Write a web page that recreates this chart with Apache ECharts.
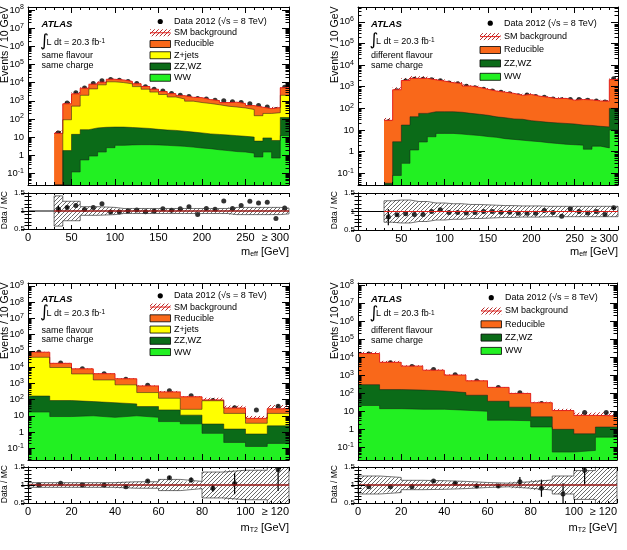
<!DOCTYPE html>
<html>
<head>
<meta charset="utf-8">
<script src="https://cdn.jsdelivr.net/npm/echarts@6.0.0/dist/echarts.min.js"></script>
<style>
  html, body { margin: 0; padding: 0; background: #fff; }
  #chart { width: 627px; height: 550px; }
</style>
</head>
<body>
<div id="chart"></div>
<script>
const FONT = '"Liberation Sans", Arial, Helvetica, sans-serif';
const COL = { red: '#f9681a', zjets: '#ffff00', zz: '#0b6b18', ww: '#22f022', sm: '#e3211c' };

// bin centres (10 GeV bins, last bin is overflow)
const meffBins = [35, 45, 55, 65, 75, 85, 95, 105, 115, 125, 135, 145, 155, 165, 175, 185, 195, 205, 215, 225, 235, 245, 255, 265, 275, 285, 295];
const mt2Bins = [5, 15, 25, 35, 45, 55, 65, 75, 85, 95, 105, 115];
// axis ticks
const meffTicks = [0, 50, 100, 150, 200, 250, 300];
const mt2Ticks = [0, 20, 40, 60, 80, 100, 120];
const ratioTicks = [0.5, 1, 1.5];
const sfEffDecades = [-1, 0, 1, 2, 3, 4, 5, 6, 7, 8];
const dfEffDecades = [-1, 0, 1, 2, 3, 4, 5, 6];
const sfT2Decades = [-1, 0, 1, 2, 3, 4, 5, 6, 7, 8, 9];
const dfT2Decades = [-1, 0, 1, 2, 3, 4, 5, 6, 7, 8];

// same flavour, m_eff
const sfEffWW = [0, 0, 0.12, 0.55, 0.9, 1.5, 2.6, 3.5, 3.7, 3.8, 3.8, 3.7, 3.5, 3.3, 3.1, 2.8, 2.5, 2.3, 2.0, 1.8, 1.6, 1.5, 1.3, 0.8, 1.5, 0.7, 12];
const sfEffZZ = [0, 1.8, 14, 25, 31, 33, 33, 32, 30, 28, 26, 23, 21, 20, 18, 16, 14.5, 12.7, 12, 11.2, 10.4, 9.5, 8.7, 5.2, 7.5, 5.8, 108];
const sfEffZjets = [0, 88, 490, 1970, 4470, 7470, 10960, 9960, 8470, 5970, 4270, 2970, 2180, 1580, 1230, 930, 780, 690, 590, 490, 440, 390, 320, 144, 191, 213, 1880];
const sfEffRed = [16, 590, 1900, 2900, 3600, 3000, 4200, 4000, 3000, 2600, 1800, 1300, 1000, 850, 650, 600, 680, 450, 420, 290, 380, 300, 210, 290, 170, 200, 3200];
const sfEffData = [17, 750, 2760, 5100, 8900, 12600, 14700, 13600, 11500, 8860, 5980, 4300, 3390, 2500, 2010, 1740, 1330, 1230, 1070, 1010, 890, 805, 690, 540, 460, 330, 5600];
const sfEffRatio = [1.05, 1.1, 1.15, 1.04, 1.1, 1.2, 0.97, 0.97, 1.0, 1.03, 0.98, 1.0, 1.06, 1.02, 1.06, 1.12, 0.9, 1.07, 1.05, 1.28, 1.07, 1.15, 1.27, 1.22, 1.24, 0.79, 1.08];
const sfEffRatioErr = [0.1, 0.03, 0, 0, 0, 0, 0, 0, 0, 0, 0, 0, 0, 0, 0, 0, 0, 0, 0, 0, 0, 0, 0, 0, 0, 0, 0];
const sfEffBand = [0.42, 0.27, 0.27, 0.12, 0.12, 0.11, 0.1, 0.07, 0.07, 0.07, 0.07, 0.07, 0.07, 0.07, 0.07, 0.07, 0.07, 0.07, 0.07, 0.07, 0.1, 0.1, 0.1, 0.1, 0.1, 0.1, 0.08];

// different flavour, m_eff
const dfEffWW = [0, 0.08, 0.29, 1.2, 2.8, 4.9, 7, 7, 6.5, 6, 5.6, 5, 4.6, 4, 3.7, 3.4, 3.1, 2.9, 2.6, 2.4, 2.2, 2.1, 2.0, 1.3, 1.8, 1.5, 10];
const dfEffZZ = [0.035, 2.8, 16.7, 40, 56, 65, 63, 63, 60, 53, 48, 43, 36, 33, 29, 28, 24, 22, 20, 19, 18, 17, 15, 15, 13, 12.5, 90];
const dfEffRed = [28, 720, 1920, 2390, 2370, 2020, 1750, 1460, 1350, 1020, 880, 710, 590, 520, 460, 370, 410, 340, 300, 260, 270, 220, 240, 230, 205, 200, 2040];
const dfEffData = [24, 660, 1820, 2240, 2240, 2090, 1910, 1480, 1380, 1040, 900, 760, 630, 550, 480, 385, 415, 350, 330, 270, 250, 260, 260, 240, 220, 195, 2350];
const dfEffRatio = [0.85, 0.91, 0.94, 0.92, 0.92, 1.0, 1.05, 0.97, 0.97, 0.96, 0.97, 1.0, 1.0, 0.98, 0.98, 0.95, 0.95, 0.95, 1.03, 0.97, 0.87, 1.07, 1.0, 0.96, 1.0, 0.92, 1.1];
const dfEffRatioErr = [0.22, 0.03, 0, 0, 0, 0, 0, 0, 0, 0, 0, 0, 0, 0, 0, 0, 0, 0, 0, 0, 0, 0, 0, 0, 0, 0, 0.03];
const dfEffBand = [0.29, 0.31, 0.31, 0.27, 0.27, 0.23, 0.23, 0.21, 0.21, 0.19, 0.19, 0.18, 0.17, 0.16, 0.16, 0.15, 0.15, 0.15, 0.14, 0.14, 0.14, 0.14, 0.14, 0.14, 0.14, 0.14, 0.14];

// same flavour, m_T2
const sfT2WW = [17, 9, 10, 8, 10, 8, 4.4, 3.2, 0.83, 0.23, 0.13, 0.2];
const sfT2ZZ = [148, 78, 65, 56, 44, 29, 18.6, 7.8, 2.3, 1.3, 0.63, 2.2];
const sfT2Zjets = [39800, 9300, 3700, 1540, 750, 233, 97, 14, 81, 12.5, 2.7, 11.6];
const sfT2Red = [42000, 7600, 4000, 2300, 1100, 420, 175, 123, 11, 16, 3.5, 13];
const sfT2Data = [82000, 17800, 7800, 3900, 1800, 766, 354, 169, 86, 31, 23, 39];
const sfT2Ratio = [1.0, 1.05, 1.0, 1.0, 0.95, 1.11, 1.2, 1.14, 0.91, 1.04, null, 1.43];
const sfT2RatioErr = [0, 0, 0, 0, 0.02, 0.03, 0.05, 0.07, 0.1, 0.3, 0, 0.6];
const sfT2Band = [0.065, 0.065, 0.065, 0.065, 0.09, 0.09, 0.155, 0.1, 0.36, 0.41, 0.41, 0.7];

// different flavour, m_T2
const dfT2WW = [21, 14, 13, 13, 11.5, 10, 3.2, 3.0, 1.35, 0.055, 0.068, 0.37];
const dfT2ZZ = [279, 146, 137, 122, 98, 68, 33, 14, 3.6, 0.95, 0.5, 0.98];
const dfT2Red = [15700, 5040, 3050, 1765, 910, 412, 176, 81, 25, 10, 5.4, 4.2];
const dfT2Data = [15200, 4940, 3040, 2110, 1070, 475, 206, 107, 27, 8.3, 8.5, 8.5];
const dfT2Ratio = [0.95, 0.95, 0.95, 1.11, 1.05, 0.97, 0.97, 1.09, 0.91, 0.75, 1.41, null];
const dfT2RatioErr = [0, 0, 0, 0.03, 0.03, 0.04, 0.05, 0.13, 0.24, 0.3, 0.4, 0];
const dfT2Band = [0.25, 0.21, 0.13, 0.12, 0.1, 0.07, 0.05, 0.09, 0.14, 0.25, 0.4, 0.6];

function hatch(color, gap, width) {
  const c = document.createElement('canvas');
  c.width = gap; c.height = gap;
  const g = c.getContext('2d');
  g.strokeStyle = color; g.lineWidth = width;
  g.beginPath();
  g.moveTo(-1, gap + 1); g.lineTo(gap + 1, -1);
  g.moveTo(-1, 1); g.lineTo(1, -1);
  g.moveTo(gap - 1, gap + 1); g.lineTo(gap + 1, gap - 1);
  g.stroke();
  return { image: c, repeat: 'repeat' };
}
const hatchSM = hatch('#b01818', 4, 0.9);
const hatchRatio = hatch('#444', 4, 0.8);

const panels = [
  { left: 28, width: 261, top: 7, height: 178, rTop: 193, rHeight: 36, yMin: 0.023, yMax: 1.45e8, decades: sfEffDecades,
    ticks: meffTicks, bins: meffBins, xSub: 'eff', titleY: 252,
    layers: [['WW', sfEffWW, COL.ww], ['ZZ,WZ', sfEffZZ, COL.zz], ['Z+jets', sfEffZjets, COL.zjets], ['Reducible', sfEffRed, COL.red]],
    data: sfEffData, ratio: sfEffRatio, err: sfEffRatioErr, band: sfEffBand,
    region: 'same flavour', legend: { x: 150, y: 21.5, dy: 11.25 }, atlas: { x: 41.5, y: [24.7, 42.5, 55.3, 65.3] } },
  { left: 358, width: 260, top: 7, height: 178, rTop: 193, rHeight: 37, yMin: 0.029, yMax: 4.8e6, decades: dfEffDecades,
    ticks: meffTicks, bins: meffBins, xSub: 'eff', titleY: 252,
    layers: [['WW', dfEffWW, COL.ww], ['ZZ,WZ', dfEffZZ, COL.zz], ['Reducible', dfEffRed, COL.red]],
    data: dfEffData, ratio: dfEffRatio, err: dfEffRatioErr, band: dfEffBand,
    region: 'different flavour', legend: { x: 480, y: 23.2, dy: 13.4 }, atlas: { x: 371, y: [24.5, 41.5, 55.7, 65.2] } },
  { left: 28, width: 261, top: 283, height: 177, rTop: 467, rHeight: 36, yMin: 0.019, yMax: 1.5e9, decades: sfT2Decades,
    ticks: mt2Ticks, bins: mt2Bins, xSub: 'T2', titleY: 528,
    layers: [['WW', sfT2WW, COL.ww], ['ZZ,WZ', sfT2ZZ, COL.zz], ['Z+jets', sfT2Zjets, COL.zjets], ['Reducible', sfT2Red, COL.red]],
    data: sfT2Data, ratio: sfT2Ratio, err: sfT2RatioErr, band: sfT2Band,
    region: 'same flavour', legend: { x: 150, y: 295.8, dy: 11.25 }, atlas: { x: 41.5, y: [299, 313.3, 330.3, 339.7] } },
  { left: 358, width: 259, top: 283, height: 177, rTop: 467, rHeight: 36, yMin: 0.02, yMax: 1.3e8, decades: dfT2Decades,
    ticks: mt2Ticks, bins: mt2Bins, xSub: 'T2', titleY: 528,
    layers: [['WW', dfT2WW, COL.ww], ['ZZ,WZ', dfT2ZZ, COL.zz], ['Reducible', dfT2Red, COL.red]],
    data: dfT2Data, ratio: dfT2Ratio, err: dfT2RatioErr, band: dfT2Band,
    region: 'different flavour', legend: { x: 481, y: 297.7, dy: 13.3 }, atlas: { x: 371, y: [299, 314, 331, 340.3] } }
];

function stepPoints(bins, values, half, floor) {
  const pts = [];
  bins.forEach((c, i) => {
    let v = values[i];
    if (floor != null && !(v > floor)) v = floor;
    pts.push([c - half, v], [c + half, v]);
  });
  return pts;
}

const blackLine = { color: '#000', width: 1 };
function xPair(grid, p, ratio) {
  const len = ratio ? 4 : 6;
  const xMax = p.ticks[p.ticks.length - 1];
  const base = {
    type: 'value', gridIndex: grid, min: p.ticks[0], max: xMax, interval: p.ticks[1] - p.ticks[0], z: 10,
    axisLine: { show: true, lineStyle: blackLine }, splitLine: { show: false },
    axisTick: { show: true, inside: true, length: len, lineStyle: blackLine },
    minorTick: { show: true, splitNumber: 5, length: len / 2, lineStyle: blackLine },
    axisLabel: { show: false }
  };
  const bottom = Object.assign({}, base, { position: 'bottom' });
  if (ratio) {
    bottom.axisLabel = {
      show: true, fontSize: 11, fontFamily: FONT, color: '#000', margin: 3,
      alignMaxLabel: 'right',
      formatter: v => (v === xMax ? '\u2265 ' + v : String(v))
    };
  }
  return [bottom, Object.assign({}, base, { position: 'top' })];
}
function logLabel(v) {
  const e = Math.round(Math.log10(v));
  if (e === 0) return '1';
  if (e === 1) return '10';
  return '10{s|' + e + '}';
}
function yMain(grid, p) {
  const major = p.decades.map(e => Math.pow(10, e));
  const minor = [];
  p.decades.concat([p.decades[0] - 1]).forEach(e => {
    for (let m = 2; m <= 9; m++) {
      const v = m * Math.pow(10, e);
      if (v > p.yMin && v < p.yMax) minor.push(v);
    }
  });
  const base = {
    type: 'log', logBase: 10, gridIndex: grid, min: p.yMin, max: p.yMax, z: 10,
    splitLine: { show: false }, minorTick: { show: false }, axisLabel: { show: false }
  };
  const mk = (pos, vals, len, labels, line) => Object.assign({}, base, {
    position: pos,
    axisLine: { show: line, lineStyle: blackLine },
    axisTick: { show: true, inside: true, length: len, customValues: vals, lineStyle: blackLine },
    axisLabel: labels ? { show: true, customValues: major, fontSize: 9.5, fontFamily: FONT, color: '#000', margin: 4,
      lineHeight: 12, formatter: logLabel,
      rich: { s: { fontSize: 7, fontFamily: FONT, verticalAlign: 'top', lineHeight: 7 } } } : { show: false }
  });
  return [mk('left', major, 7, true, true), mk('left', minor, 3.5, false, false),
          mk('right', major, 7, false, true), mk('right', minor, 3.5, false, false)];
}
function yRatio(grid) {
  const base = {
    type: 'value', gridIndex: grid, z: 10, min: ratioTicks[0], max: ratioTicks[2], interval: ratioTicks[1] - ratioTicks[0],
    axisLine: { show: true, lineStyle: blackLine }, splitLine: { show: false },
    axisTick: { show: true, inside: true, length: 7, lineStyle: blackLine },
    minorTick: { show: true, splitNumber: 5, length: 3.5, lineStyle: blackLine },
    axisLabel: { show: false }
  };
  return [Object.assign({}, base, { position: 'left',
            axisLabel: { show: true, fontSize: 8, fontFamily: FONT, color: '#000', margin: 3 } }),
          Object.assign({}, base, { position: 'right' })];
}

const grids = [], xAxes = [], yAxes = [], series = [], gfx = [];
const txt = (x, y, text, extra) => ({ type: 'text', x, y, silent: true,
  style: Object.assign({ text, fontSize: 9, fontFamily: FONT, fill: '#000', verticalAlign: 'middle' }, extra || {}) });

panels.forEach((p, k) => {
  const gMain = 2 * k, gRatio = 2 * k + 1;
  const xMain = 4 * k, xRatio = 4 * k + 2;
  const yMainIdx = 6 * k, yRatioIdx = 6 * k + 4;
  const half = 5;
  const xMax = p.ticks[p.ticks.length - 1];
  const lo = p.bins[0] - half, hi = p.bins[p.bins.length - 1] + half;
  grids.push({ left: p.left, top: p.top, width: p.width, height: p.height, containLabel: false, outerBoundsMode: 'none' });
  grids.push({ left: p.left, top: p.rTop, width: p.width, height: p.rHeight, containLabel: false, outerBoundsMode: 'none' });
  xAxes.push(...xPair(gMain, p, false), ...xPair(gRatio, p, true));
  yAxes.push(...yMain(gMain, p), ...yRatio(gRatio));

  // cumulative stack, drawn from the top layer down
  let run = p.bins.map(() => 0);
  const cum = p.layers.map(l => { run = run.map((v, i) => v + l[1][i]); return { color: l[2], values: run }; });
  const total = cum[cum.length - 1].values;
  cum.slice().reverse().forEach((c, j) => series.push({
    type: 'line', xAxisIndex: xMain, yAxisIndex: yMainIdx, data: stepPoints(p.bins, c.values, half, p.yMin),
    symbol: 'none', silent: true, animation: false,
    areaStyle: { color: c.color, opacity: 1, origin: 'start' },
    lineStyle: j === 0 ? { color: COL.sm, width: 1 } : { color: '#1b1b1b', width: 0.5 }
  }));
  series.push({
    type: 'custom', xAxisIndex: xMain, yAxisIndex: yMainIdx, clip: true, silent: true, animation: false,
    data: p.bins.map((c, i) => [c, total[i] * (1 - p.band[i]), total[i] * (1 + p.band[i])]),
    renderItem: (params, api) => {
      const a = api.coord([api.value(0) - half, api.value(2)]);
      const b = api.coord([api.value(0) + half, api.value(1)]);
      return { type: 'rect', shape: { x: a[0], y: a[1], width: b[0] - a[0], height: b[1] - a[1] }, style: { fill: hatchSM } };
    }
  });
  series.push({
    type: 'scatter', xAxisIndex: xMain, yAxisIndex: yMainIdx, symbol: 'circle', symbolSize: 5, silent: true, animation: false,
    itemStyle: { color: '#000' }, data: p.bins.map((c, i) => [c, p.data[i]])
  });

  // ratio panel
  series.push({
    type: 'line', xAxisIndex: xRatio, yAxisIndex: yRatioIdx, data: [[0, 1], [xMax, 1]],
    symbol: 'none', silent: true, animation: false, lineStyle: { color: '#000', width: 1 }
  });
  series.push({
    type: 'custom', xAxisIndex: xRatio, yAxisIndex: yRatioIdx, clip: true, silent: true, animation: false,
    data: p.bins.map((c, i) => [c, 1 - p.band[i], 1 + p.band[i]]),
    renderItem: (params, api) => {
      const a = api.coord([api.value(0) - half, api.value(2)]);
      const b = api.coord([api.value(0) + half, api.value(1)]);
      return { type: 'rect', shape: { x: a[0], y: a[1], width: b[0] - a[0], height: b[1] - a[1] }, style: { fill: hatchRatio } };
    }
  });
  [1, -1].forEach(sgn => series.push({
    type: 'line', xAxisIndex: xRatio, yAxisIndex: yRatioIdx, symbol: 'none', silent: true, animation: false,
    data: [[lo, 1], ...stepPoints(p.bins, p.band.map(b => 1 + sgn * b), half, null), [hi, 1]],
    lineStyle: { color: '#333', width: 0.7 }
  }));
  series.push({
    type: 'line', xAxisIndex: xRatio, yAxisIndex: yRatioIdx, data: [[lo, 1], [hi, 1]],
    symbol: 'none', silent: true, animation: false, lineStyle: { color: COL.sm, width: 1 }
  });
  series.push({
    type: 'custom', xAxisIndex: xRatio, yAxisIndex: yRatioIdx, clip: true, silent: true, animation: false,
    data: p.bins.map((c, i) => [c, p.ratio[i], p.err[i]]).filter(d => d[1] != null && d[2] > 0),
    renderItem: (params, api) => {
      const a = api.coord([api.value(0), api.value(1) - api.value(2)]);
      const b = api.coord([api.value(0), api.value(1) + api.value(2)]);
      return { type: 'line', shape: { x1: a[0], y1: a[1], x2: b[0], y2: b[1] }, style: { stroke: '#000', lineWidth: 1.2 } };
    }
  });
  series.push({
    type: 'scatter', xAxisIndex: xRatio, yAxisIndex: yRatioIdx, symbol: 'circle', symbolSize: 5, silent: true, animation: false,
    itemStyle: { color: '#000' }, data: p.bins.map((c, i) => [c, p.ratio[i]]).filter(d => d[1] != null)
  });

  // legend
  const L = p.legend, bw = 20.5, bh = 7;
  const entries = [{ kind: 'data', label: 'Data 2012 (\u221As = 8 TeV)' }, { kind: 'sm', label: 'SM background' }]
    .concat(p.layers.slice().reverse().map(l => ({ kind: 'box', label: l[0], color: l[2] })));
  entries.forEach((e, i) => {
    const y = L.y + i * L.dy;
    if (e.kind === 'data') {
      gfx.push({ type: 'circle', silent: true, shape: { cx: L.x + bw / 2, cy: y, r: 2.6 }, style: { fill: '#000' } });
    } else if (e.kind === 'sm') {
      gfx.push({ type: 'rect', silent: true, shape: { x: L.x, y: y - bh / 2, width: bw, height: bh }, style: { fill: hatchSM } });
      gfx.push({ type: 'line', silent: true, shape: { x1: L.x, y1: y, x2: L.x + bw, y2: y }, style: { stroke: COL.sm, lineWidth: 1 } });
    } else {
      gfx.push({ type: 'rect', silent: true, shape: { x: L.x, y: y - bh / 2, width: bw, height: bh }, style: { fill: e.color, stroke: '#000', lineWidth: 0.8 } });
    }
    gfx.push(txt(L.x + bw + 3.5, y, e.label));
  });

  // ATLAS label block
  const A = p.atlas;
  gfx.push(txt(A.x, A.y[0], 'ATLAS', { fontWeight: 'bold', fontStyle: 'italic', fontSize: 9.5 }));
  gfx.push(txt(A.x - 1.5, A.y[1] - 0.5, '\u222B', { fontSize: 17, fontFamily: 'DejaVu Sans' }));
  gfx.push(txt(A.x + 5, A.y[1], 'L dt = 20.3 fb{s|-1}', { rich: { s: { fontSize: 6.5, fontFamily: FONT, verticalAlign: 'top', lineHeight: 6 } } }));
  gfx.push(txt(A.x, A.y[2], p.region));
  gfx.push(txt(A.x, A.y[3], 'same charge'));

  // axis titles
  gfx.push(txt(p.left - 23, p.top - 0.5, 'Events / 10 GeV', { fontSize: 10.5, align: 'right' }));
  gfx[gfx.length - 1].rotation = Math.PI / 2;
  gfx.push(txt(p.left - 23, p.rTop - 2, 'Data / MC', { fontSize: 8.5, align: 'right' }));
  gfx[gfx.length - 1].rotation = Math.PI / 2;
  gfx.push(txt(p.left + p.width, p.titleY, 'm{sub|' + p.xSub + '} [GeV]', { fontSize: 11, align: 'right',
    rich: { sub: { fontSize: 7, fontFamily: FONT, verticalAlign: 'bottom', lineHeight: 9 } } }));
});

const chart = echarts.init(document.getElementById('chart'), null, { renderer: 'canvas' });
chart.setOption({
  animation: false,
  backgroundColor: '#fff',
  textStyle: { fontFamily: FONT },
  grid: grids,
  xAxis: xAxes,
  yAxis: yAxes,
  series,
  graphic: { elements: gfx }
});
</script>
</body>
</html>
